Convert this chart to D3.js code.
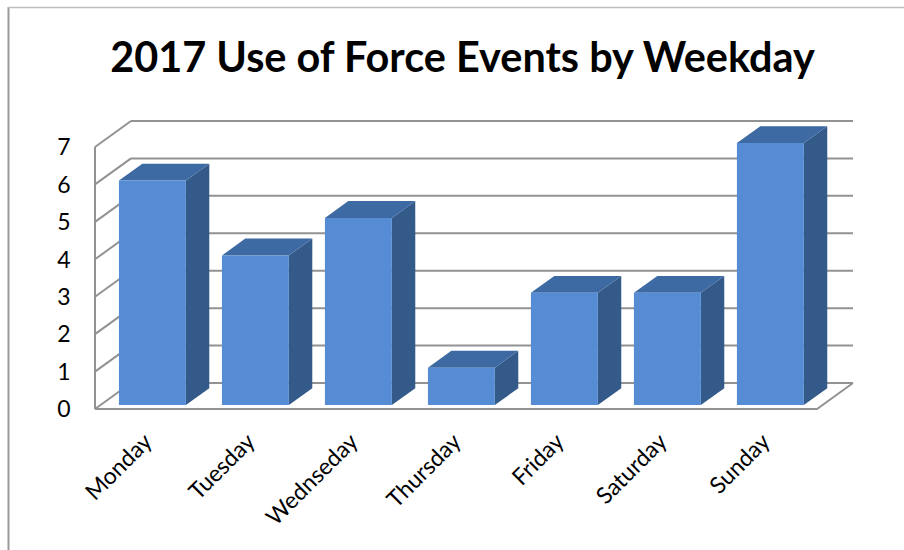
<!DOCTYPE html>
<html>
<head>
<meta charset="utf-8">
<script src="https://cdnjs.cloudflare.com/ajax/libs/d3/7.8.5/d3.min.js"></script>
<style>
  html, body { margin: 0; padding: 0; background: #fff; }
  svg { display: block; }
</style>
</head>
<body>
<svg id="chart" width="904" height="550"></svg>
<script>
const titleText = "2017 Use of Force Events by Weekday";
const categories = ["Monday", "Tuesday", "Wednseday", "Thursday", "Friday", "Saturday", "Sunday"];
const values = [6, 4, 5, 1, 3, 3, 7];
const yTicks = [0, 1, 2, 3, 4, 5, 6, 7];

const svg = d3.select("#chart");
const FONT = "Lato, 'Open Sans', sans-serif";

// 3D depth projection
const DX = 36, DY = 26;
const x = d3.scaleBand().domain(categories).range([95, 817]).paddingInner(0.35).paddingOuter(0.18);
const y = d3.scaleLinear().domain([0, 7]).range([409, 147]);
const P = (px, v, z) => [px + z * DX, y(v) - z * DY];
const bw = x.bandwidth();
const z0 = 0.15, z1 = 0.8;

// outer frame
svg.append("line").attr("x1", 8.5).attr("y1", 7).attr("x2", 8.5).attr("y2", 550)
  .attr("stroke", "#9a9a9a").attr("stroke-width", 2);
svg.append("line").attr("x1", 8).attr("y1", 7.5).attr("x2", 904).attr("y2", 7.5)
  .attr("stroke", "#bdbdbd").attr("stroke-width", 1.5);

// title
const t = svg.append("text").attr("x", 462.5).attr("y", 72).attr("text-anchor", "middle")
  .attr("font-family", FONT).attr("font-weight", "bold").attr("font-size", 36)
  .attr("fill", "#000").text(titleText);
const tw = t.node().getComputedTextLength();
t.attr("font-size", 36 * 705 / tw);

const grid = svg.append("g").attr("stroke", "#929292").attr("stroke-width", 2).attr("fill", "none");
// back wall gridlines
grid.selectAll("line.back").data(yTicks).join("line").attr("class", "back")
  .attr("x1", d => P(95, d, 1)[0]).attr("y1", d => P(95, d, 1)[1])
  .attr("x2", d => P(817, d, 1)[0]).attr("y2", d => P(817, d, 1)[1]);
// side wall gridlines
grid.selectAll("line.side").data(yTicks).join("line").attr("class", "side")
  .attr("x1", d => P(95, d, 0)[0]).attr("y1", d => P(95, d, 0)[1])
  .attr("x2", d => P(95, d, 1)[0]).attr("y2", d => P(95, d, 1)[1]);
// floor front edge and right edge
grid.append("path").attr("d", d3.line()([P(95, 0, 0), P(817, 0, 0), P(817, 0, 1)]));
// side wall front vertical
grid.append("line").attr("x1", P(95, 0, 0)[0]).attr("y1", P(95, 0, 0)[1])
  .attr("x2", P(95, 7, 0)[0]).attr("y2", P(95, 7, 0)[1]);

// bars
const data = categories.map((c, i) => ({ c, v: values[i] }));
const bars = svg.append("g").selectAll("g").data(data).join("g");
const poly = pts => "M" + pts.map(p => p.join(",")).join("L") + "Z";
bars.append("path").attr("fill", "#345a8a")
  .attr("d", d => { const x1 = x(d.c) + bw; return poly([P(x1, 0, z0), P(x1, 0, z1), P(x1, d.v, z1), P(x1, d.v, z0)]); });
bars.append("path").attr("fill", "#3e6aa3")
  .attr("d", d => { const x0 = x(d.c), x1 = x0 + bw; return poly([P(x0, d.v, z0), P(x1, d.v, z0), P(x1, d.v, z1), P(x0, d.v, z1)]); });
bars.append("path").attr("fill", "#568cd4")
  .attr("d", d => { const x0 = x(d.c), x1 = x0 + bw; return poly([P(x0, 0, z0), P(x1, 0, z0), P(x1, d.v, z0), P(x0, d.v, z0)]); });

// y tick labels
svg.append("g").selectAll("text").data(yTicks).join("text")
  .attr("x", 64).attr("y", d => y(d)).attr("dy", "0.36em").attr("text-anchor", "middle")
  .attr("font-family", FONT).attr("font-size", 23).attr("fill", "#000").text(d => d);

// category labels
svg.append("g").selectAll("text").data(categories).join("text")
  .attr("transform", d => `translate(${x(d) + bw / 2 + z0 * DX + 1},443) rotate(-45)`)
  .attr("text-anchor", "end")
  .attr("font-family", FONT).attr("font-size", 23).attr("fill", "#000").text(d => d);
</script>
</body>
</html>
